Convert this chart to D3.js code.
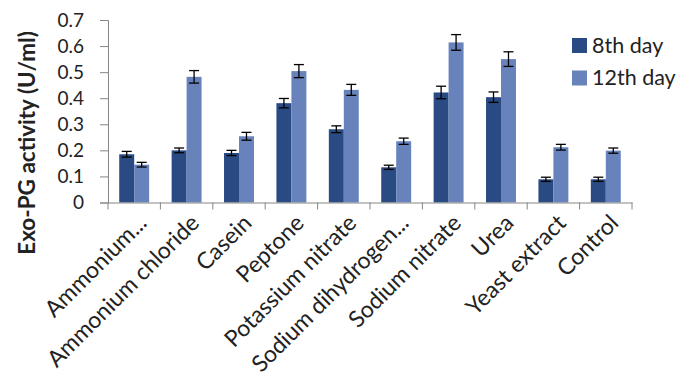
<!DOCTYPE html>
<html><head><meta charset="utf-8">
<script src="https://cdn.jsdelivr.net/npm/d3@7"></script>
<style>
html,body{margin:0;padding:0;background:#fff;}
text{font-family:Lato,"Open Sans",sans-serif;fill:#222;}
</style></head>
<body>
<svg id="chart" width="679" height="378"></svg>
<script>
const categories = ["Ammonium...", "Ammonium chloride", "Casein", "Peptone", "Potassium nitrate",
  "Sodium dihydrogen...", "Sodium nitrate", "Urea", "Yeast extract", "Control"];
const seriesNames = ["8th day", "12th day"];
const day8 = [0.185, 0.200, 0.190, 0.381, 0.281, 0.135, 0.422, 0.404, 0.089, 0.089];
const day12 = [0.145, 0.482, 0.254, 0.504, 0.432, 0.235, 0.614, 0.550, 0.212, 0.199];
const err8 = [0.011, 0.009, 0.010, 0.018, 0.013, 0.008, 0.024, 0.020, 0.008, 0.008];
const err12 = [0.009, 0.024, 0.015, 0.025, 0.021, 0.012, 0.030, 0.028, 0.011, 0.010];
const yTicks = [0, 0.1, 0.2, 0.3, 0.4, 0.5, 0.6, 0.7];
const colors = ["#294a82", "#6883bc"];

const svg = d3.select("#chart");
const mLeft = 108, mRight = 632, mTop = 20, mBottom = 202.5;

const x = d3.scaleBand().domain(categories).range([mLeft, mRight]).paddingInner(0).paddingOuter(0);
const xs = d3.scaleBand().domain(seriesNames).range([0, x.bandwidth()]).paddingInner(0).paddingOuter(0.75);
const y = d3.scaleLinear().domain([0, 0.7]).range([mBottom, mTop]);

const rows = categories.map((c, i) => ({c, vals: [
  {s: seriesNames[0], v: day8[i], e: err8[i]},
  {s: seriesNames[1], v: day12[i], e: err12[i]}]}));

const g = svg.append("g").selectAll("g").data(rows).join("g")
  .attr("transform", d => `translate(${x(d.c)},0)`);
g.selectAll("rect").data(d => d.vals).join("rect")
  .attr("x", d => xs(d.s)).attr("width", xs.bandwidth())
  .attr("y", d => y(d.v)).attr("height", d => y(0) - y(d.v))
  .attr("fill", (d, i) => colors[i]);

// error bars
const eb = g.selectAll("g.err").data(d => d.vals).join("g").attr("class", "err")
  .attr("transform", d => `translate(${xs(d.s) + xs.bandwidth() / 2},0)`);
const ebStyle = sel => sel.attr("stroke", "#000").attr("stroke-width", 1.3);
eb.append("line").attr("y1", d => y(d.v + d.e)).attr("y2", d => y(d.v - d.e)).call(ebStyle);
eb.append("line").attr("x1", -5).attr("x2", 5).attr("y1", d => y(d.v + d.e)).attr("y2", d => y(d.v + d.e)).call(ebStyle);
eb.append("line").attr("x1", -5).attr("x2", 5).attr("y1", d => y(d.v - d.e)).attr("y2", d => y(d.v - d.e)).call(ebStyle);

// y axis
const ya = svg.append("g").attr("transform", `translate(${mLeft},0)`)
  .call(d3.axisLeft(y).tickValues(yTicks).tickFormat(d => d === 0 ? "0" : d3.format(".1f")(d)).tickSize(8).tickPadding(16));
ya.select(".domain").attr("stroke", "#868686");
ya.selectAll(".tick line").attr("stroke", "#868686");
ya.selectAll(".tick text").attr("font-size", 19).attr("fill", "#222").attr("font-family", "Lato");

// x axis
const xa = svg.append("g").attr("transform", `translate(0,${mBottom})`)
  .call(d3.axisBottom(x).tickSize(0).tickFormat(""));
xa.select(".domain").attr("stroke", "#868686");
const bounds = categories.map(c => x(c)).concat([mRight]);
xa.selectAll("line.sep").data(bounds).join("line").attr("class", "sep")
  .attr("x1", d => d).attr("x2", d => d).attr("y1", 0).attr("y2", 7).attr("stroke", "#868686");
xa.selectAll("text.cat").data(categories).join("text").attr("class", "cat")
  .attr("transform", d => `translate(${x(d) + x.bandwidth() / 2 + 14},${22}) rotate(-45)`)
  .attr("text-anchor", "end").attr("font-size", 23).text(d => d);

// y title
svg.append("text").attr("transform", `translate(35,143) rotate(-90)`)
  .attr("text-anchor", "middle").attr("font-size", 22.5).attr("font-weight", "bold").text("Exo-PG activity (U/ml)");

// legend
const lg = svg.append("g").selectAll("g").data(seriesNames).join("g")
  .attr("transform", (d, i) => `translate(572,${38 + i * 32.5})`);
lg.append("rect").attr("width", 15).attr("height", 15).attr("fill", (d, i) => colors[i]);
lg.append("text").attr("x", 20).attr("y", 14.5).attr("font-size", 21.5).text(d => d);
</script>
</body></html>
